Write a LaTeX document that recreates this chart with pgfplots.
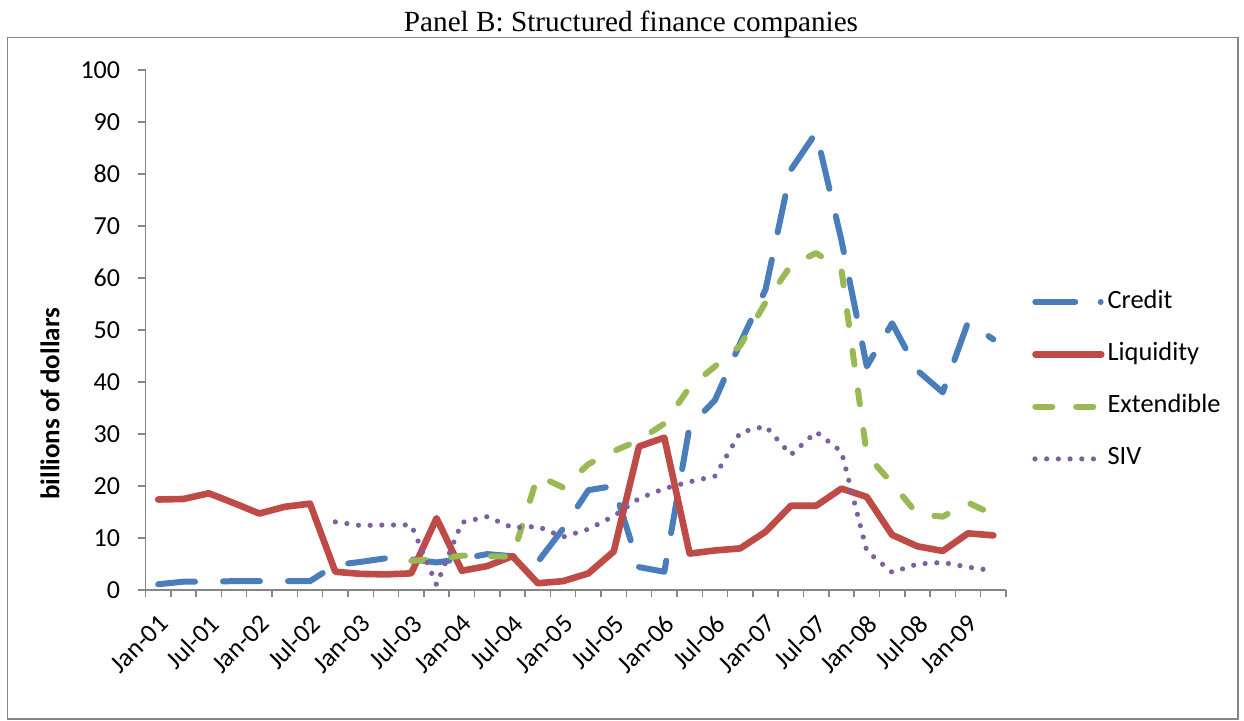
\documentclass[border=0pt]{standalone}
\usepackage{fontspec}
\setmainfont{Carlito}
\newfontfamily\titlefont{Liberation Serif}
\usepackage{pgfplots}
\usepackage{pgfplotstable}
\pgfplotsset{compat=1.18}

\definecolor{credit}{HTML}{4A7EBB}
\definecolor{liq}{HTML}{BE4B48}
\definecolor{ext}{HTML}{98B954}
\definecolor{siv}{HTML}{7D60A0}
\definecolor{axisgray}{HTML}{868686}

\pgfplotsset{
    leg credit/.style={legend image code/.code={\path (0pt,0pt) (36pt,0pt);
        \draw[##1, dash pattern=on 20pt off 12.7pt on 0pt off 10pt] (1.5pt,0pt) -- (35pt,0pt);}},
    leg liq/.style={legend image code/.code={\path (0pt,0pt) (36pt,0pt);
        \draw[##1] (1.6pt,0pt) -- (34.5pt,0pt);}},
    leg ext/.style={legend image code/.code={\path (0pt,0pt) (36pt,0pt);
        \draw[##1, dash pattern=on 8.5pt off 12pt] (1.5pt,0pt) -- (31pt,0pt);}},
    leg siv/.style={legend image code/.code={\path (0pt,0pt) (36pt,0pt);
        \draw[##1] (1.35pt,0pt) -- (31pt,0pt);}},
}

% quarterly, Jan-01 (q=0) to Apr-09 (q=33), billions of dollars
\pgfplotstableread{
q  credit liq  ext  siv
0  1.1    17.4 nan  nan
1  1.6    17.5 nan  nan
2  1.6    18.6 nan  nan
3  1.7    16.7 nan  nan
4  1.7    14.7 nan  nan
5  1.7    16.0 nan  nan
6  1.7    16.6 nan  nan
7  4.8    3.5  nan  13.1
8  5.4    3.1  nan  12.4
9  6.1    3.0  nan  12.5
10 5.9    3.2  5.6  12.5
11 5.3    13.8 6.0  1.0
12 6.0    3.7  6.6  13.0
13 6.9    4.6  6.5  14.1
14 6.5    6.5  6.4  12.0
15 5.4    1.3  22.0 12.2
16 11.8   1.7  19.7 10.2
17 19.2   3.2  24.2 11.7
18 20.0   7.4  26.7 14.2
19 4.4    27.6 28.8 17.6
20 3.5    29.3 32.0 19.5
21 31.5   7.0  39.0 20.8
22 36.5   7.6  43.0 21.9
23 47.5   8.0  47.0 30.3
24 57.8   11.2 55.3 31.5
25 80.8   16.2 62.4 26.0
26 88.0   16.2 64.8 30.4
27 67.2   19.5 61.5 26.6
28 43.0   17.9 26.0 7.5
29 51.3   10.6 20.5 3.4
30 42.2   8.4  14.6 5.0
31 38.0   7.5  14.1 5.3
32 51.5   10.9 16.8 4.4
33 48.2   10.5 14.5 3.7
}\funding

\begin{document}
\begin{tikzpicture}[x=1pt,y=1pt]
\draw[axisgray, line width=0.75pt] (3.75,1) rectangle (619,341.75);
\node[anchor=base, inner sep=0pt] at (315.5,344.65) {\titlefont\fontsize{14.6}{17}\selectfont Panel B: Structured finance companies};
\begin{axis}[
    at={(72.75pt,65.5pt)}, anchor=south west,
    scale only axis, width=430.25pt, height=260pt,
    xmin=-0.5, xmax=33.5, ymin=0, ymax=100,
    axis x line*=bottom, axis y line*=left,
    axis line style={axisgray, line width=0.75pt},
    ytick={0,10,...,100},
    % ticks sit between quarters; labels every second quarter, moved half a quarter right
    xtick={-0.5,0.5,...,33.5},
    xticklabels={Jan-01,,Jul-01,,Jan-02,,Jul-02,,Jan-03,,Jul-03,,Jan-04,,Jul-04,,Jan-05,,Jul-05,,Jan-06,,Jul-06,,Jan-07,,Jul-07,,Jan-08,,Jul-08,,Jan-09,,},
    tick align=outside,
    major tick length=3.5pt,
    tick style={axisgray, line width=0.75pt},
    tick label style={font=\fontsize{13}{15}\selectfont},
    /pgf/number format/assume math mode=true,
    yticklabel style={anchor=east, inner sep=0pt, xshift=-9pt},
    xticklabel style={xshift=6pt, yshift=-8pt, rotate=45, anchor=north east, inner sep=0pt},
    ylabel={billions of dollars},
    ylabel style={font=\bfseries\fontsize{13.5}{16}\selectfont, at={(axis description cs:-0.111,0.358)}, anchor=center},
    clip=false,
    unbounded coords=discard,
    legend cell align=left,
    legend style={at={(axis description cs:1.0267,0.5769)}, anchor=north west,
        draw=none, fill=none, inner sep=0pt, outer sep=0pt, row sep=14.15pt,
        font=\fontsize{13.2}{15}\selectfont,
        nodes={inner sep=0pt, text height=9pt, text depth=3pt},
        /tikz/every even column/.append style={column sep=3pt}},
]
\addplot[credit, line width=3pt, line cap=round, line join=round, dash pattern=on 18.5pt off 14pt, leg credit]
    table[x=q, y=credit] {\funding};
\addlegendentry{Credit}
\addplot[liq, line width=3.3pt, line cap=round, line join=round, leg liq]
    table[x=q, y=liq] {\funding};
\addlegendentry{Liquidity}
\addplot[ext, line width=3pt, line cap=round, line join=round, dash pattern=on 7pt off 13pt, leg ext]
    table[x=q, y=ext] {\funding};
\addlegendentry{Extendible}
\addplot[siv, line width=2.6pt, line cap=round, line join=round, dash pattern=on 0pt off 5.85pt, leg siv]
    table[x=q, y=siv] {\funding};
\addlegendentry{SIV}
\end{axis}
\pgfresetboundingbox
\path (0,0) rectangle (622,360.5);
\end{tikzpicture}
\end{document}
